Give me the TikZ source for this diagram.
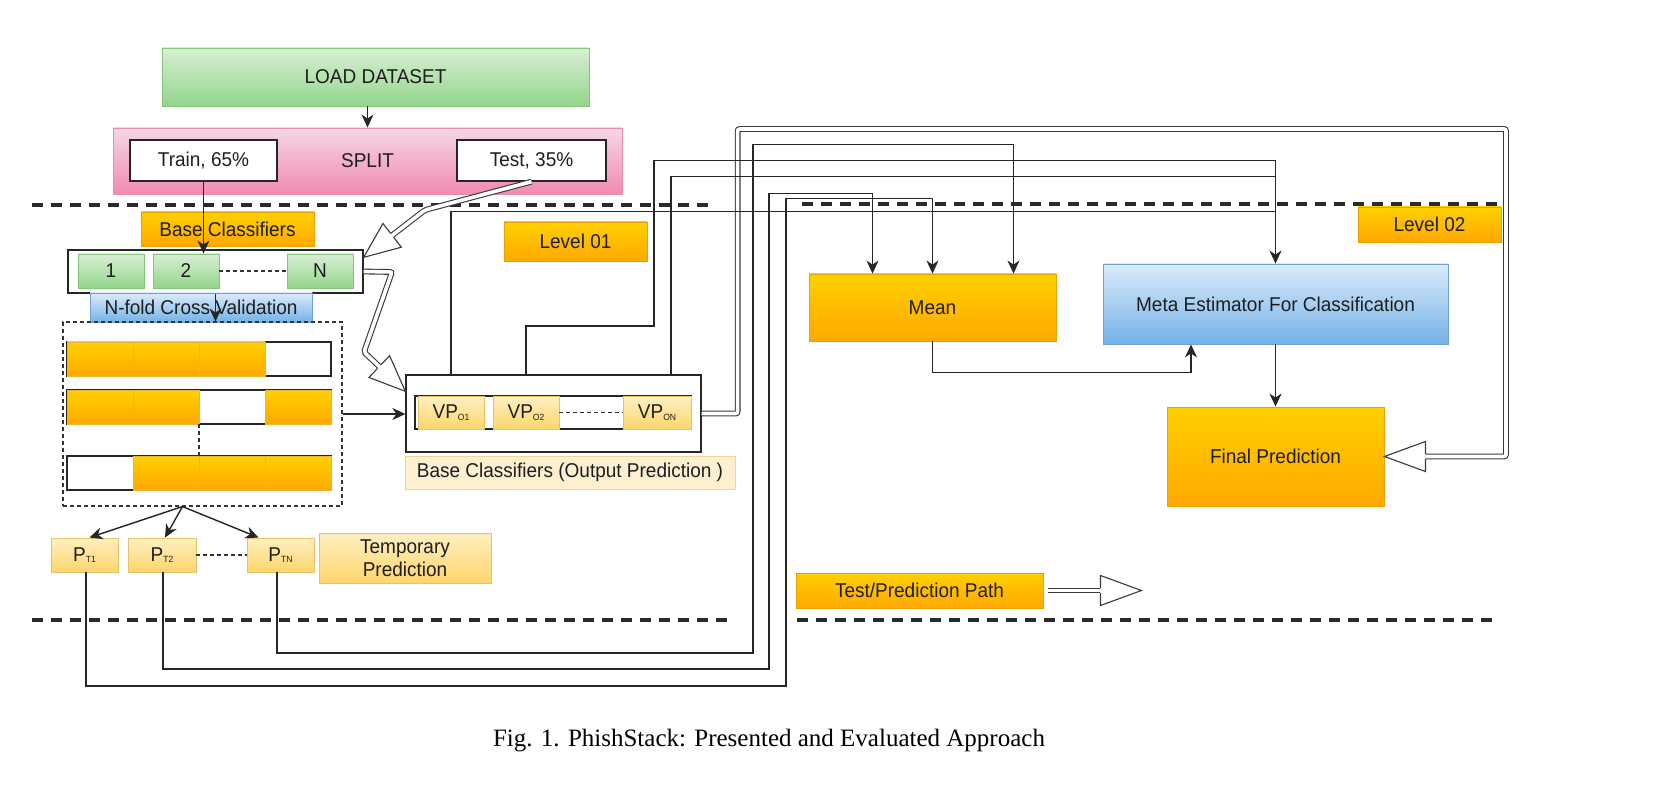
\documentclass[tikz,border=0pt]{standalone}
\usepackage{fontspec}
\setmainfont{Liberation Sans}[FakeStretch=0.95]
\newfontfamily\capfont{Liberation Serif}
\usetikzlibrary{calc,arrows.meta}
\definecolor{grT}{HTML}{D8EFD4}
\definecolor{grB}{HTML}{93D58A}
\definecolor{grD}{HTML}{86C57C}
\definecolor{pkT}{HTML}{F4D7E5}
\definecolor{pkB}{HTML}{F28AB2}
\definecolor{pkD}{HTML}{E58FB2}
\definecolor{orT}{HTML}{FFD000}
\definecolor{orB}{HTML}{FFA800}
\definecolor{orD}{HTML}{E9A100}
\definecolor{blT}{HTML}{DCEBFB}
\definecolor{blB}{HTML}{73B2E7}
\definecolor{blD}{HTML}{6FA0CF}
\definecolor{ylT}{HTML}{FFF0C2}
\definecolor{ylB}{HTML}{FDD56A}
\definecolor{ylD}{HTML}{E6C36A}
\definecolor{plF}{HTML}{FDEFD0}
\definecolor{plD}{HTML}{F2D590}
\definecolor{flc}{HTML}{3A3A3A}
\definecolor{sepc}{HTML}{2A2A2A}
\definecolor{txt}{HTML}{1E1E1E}
\newcommand{\sbs}[1]{\raisebox{-1.5pt}{\fontsize{9}{9}\selectfont #1}}
\newcommand{\flexhead}[2]{%
  \filldraw[fill=white, draw=flc, line width=1.1pt, line join=miter]
   ($(#1)!2.35pt!90:(#2)$) -- ($(#1)!15pt!90:(#2)$) -- (#2) -- ($(#1)!15pt!-90:(#2)$) -- ($(#1)!2.35pt!-90:(#2)$);}
\tikzset{
 lbl/.style={inner sep=0pt, align=center, text=txt, font=\fontsize{20}{23}\selectfont, line width=0.9pt},
 grbox/.style={lbl, draw=grD, top color=grT, bottom color=grB},
 pkbox/.style={lbl, draw=pkD, top color=pkT, bottom color=pkB},
 orbox/.style={lbl, draw=orD, top color=orT, bottom color=orB},
 blbox/.style={lbl, draw=blD, top color=blT, bottom color=blB},
 ylbox/.style={lbl, draw=ylD, top color=ylT, bottom color=ylB},
 plbox/.style={lbl, draw=plD, fill=plF},
 whbox/.style={lbl, draw=black!85, fill=white, line width=1.3pt},
 smallfont/.style={font=\fontsize{20}{22}\selectfont},
 orcell/.style={draw=orD!80, top color=orT, bottom color=orB, line width=0.7pt},
 conn/.style={draw=black!85, line width=1.4pt},
 arr/.style={conn, -{Stealth[length=13pt,width=12pt,inset=4pt]}},
 sep/.style={draw=sepc, line width=3.4pt, dash pattern=on 10.5pt off 8.5pt},
 dashthin/.style={draw=black!80, line width=1.1pt, dash pattern=on 4pt off 3pt},
 flex/.style={draw=flc, line width=1.1pt, double=white, double distance=3.6pt, rounded corners=2pt},
 sz/.style 2 args={minimum width=#1pt, minimum height=#2pt},
}
\begin{document}
\begin{tikzpicture}[x=1pt,y=-1pt]
\useasboundingbox (0,0) rectangle (1658,786);
\fill[white] (0,0) rectangle (1658,786);

% separators
\draw[sep] (32,205) -- (710,205);
\draw[sep] (802,204) -- (1498,204);
\draw[sep] (32,620) -- (730,620);
\draw[sep] (797,620) -- (1492,620);

% top
\node[grbox, sz={427}{58}] (load) at (375.5,77) {LOAD DATASET};
\node[pkbox, sz={509}{66}] (split) at (367.5,161) {SPLIT};
\node[whbox, sz={147}{41}] (train) at (203.5,160.5) {Train, 65\%};
\node[whbox, sz={149}{41}] (test) at (531.5,160.5) {Test, 35\%};

% labels
\node[orbox, sz={173}{34}] (basecl) at (227.5,229) {Base Classifiers};
\node[orbox, sz={143}{39}] (lev1) at (575.5,241.5) {Level 01};
\node[orbox, sz={143}{35}] (lev2) at (1429.5,224.5) {Level 02};

% N row
\node[whbox, sz={295}{43}] (nrow) at (215.5,271.5) {};
\node[grbox, sz={66}{34}] (c1) at (111,271) {1};
\node[grbox, sz={66}{34}] (c2) at (186,271) {2};
\node[grbox, sz={66}{34}] (cN) at (320,271) {N};
\draw[dashthin] (c2.east) -- (cN.west);
\node[blbox, sz={222}{29}] (nfold) at (201,307.5) {N-fold Cross Validation};

% folds
\node[dashthin, sz={279}{184}] (folds) at (202.5,414) {};
\foreach \yy/\w in {342/3, 390/2, 456/0} {
  \draw[line width=1.1pt, draw=black!85, fill=white] (67,\yy) rectangle (331,\yy+34);
  \foreach \i in {0,1,2,3} {
    \ifnum\i=\w\relax\else
      \draw[orcell] (67+66*\i,\yy) rectangle ++(66,34);
    \fi
  }
}
\draw[dashthin] (199,424) -- (199,456);

% temporary predictions
\node[ylbox, smallfont, sz={67}{34}] (pt1) at (84.5,555) {P\sbs{T1}};
\node[ylbox, smallfont, sz={68}{34}] (pt2) at (162,555) {P\sbs{T2}};
\node[ylbox, smallfont, sz={67}{34}] (ptn) at (280.5,555) {P\sbs{TN}};
\draw[dashthin] (pt2.east) -- (ptn.west);
\node[ylbox, sz={172}{50}] (temp) at (405,558) {Temporary\\Prediction};

% VP box
\node[whbox, sz={295}{77}] (vp) at (553.5,413.5) {};
\node[draw=black!85, line width=1.1pt, fill=white, sz={276}{33}] (vprow) at (553,412.5) {};
\node[ylbox, smallfont, sz={66}{33}] (vp1) at (451,412.5) {VP\sbs{O1}};
\node[ylbox, smallfont, sz={66}{33}] (vp2) at (526,412.5) {VP\sbs{O2}};
\node[ylbox, smallfont, sz={68}{33}] (vpn) at (657,412.5) {VP\sbs{ON}};
\draw[dashthin] (vp2.east) -- (vpn.west);
\node[plbox, sz={330}{33}] (bcout) at (570,472.5) {Base Classifiers (Output Prediction )};

% level 2
\node[orbox, sz={247}{67}] (mean) at (932.5,307.5) {Mean};
\node[blbox, sz={345}{80}] (meta) at (1275.5,304) {Meta Estimator For Classification};
\node[orbox, sz={217}{99}] (final) at (1275.5,456.5) {Final Prediction};
\node[orbox, sz={247}{35}] (tpp) at (919.5,590.5) {Test/Prediction Path};

% caption
\node[inner sep=0pt, font=\capfont\fontsize{25}{28}\selectfont] (cap) at (769,741) {Fig. 1. PhishStack: Presented and Evaluated Approach};

% flex arrows
\coordinate (tA) at (425,210);
\coordinate (tTip) at ($(nrow.north east)+(0,8)$);
\coordinate (tBase) at ($(tTip)!36pt!(tA)$);
\draw[flex] (test.south) -- (tA) -- (tBase);
\flexhead{tBase}{tTip}

\coordinate (nA) at (392,272);
\coordinate (nB) at (364,352);
\coordinate (nTip) at ($(vp.north west)+(0,17)$);
\coordinate (nBase) at ($(nTip)!36pt!(nB)$);
\draw[flex] (nrow.east) -- (nA) -- (nB) -- (nBase);
\flexhead{nBase}{nTip}

\coordinate (fBase) at ($(final.east)+(41,0)$);
\draw[flex] (vp.east) -- ++(36,0) |- (1506,129) |- (fBase);
\flexhead{fBase}{final.east}

\coordinate (pS) at ($(tpp.east)+(5,0)$);
\coordinate (pTip) at ($(tpp.east)+(98,0)$);
\coordinate (pBase) at ($(pTip)+(-41,0)$);
\draw[flex] (pS) -- (pBase);
\flexhead{pBase}{pTip}

% thin connectors
\draw[arr] (load.south -| split.north) -- (split.north);
\draw[arr] (train.south) -- (train.south |- c2.north);
\draw[arr] (nrow.south) -- (folds.north -| nrow.south);
\draw[arr] (folds.east) -- (folds.east -| vp.west);
\coordinate (fb) at ($(folds.south)+(-20,0)$);
\draw[arr] (fb) -- ($(pt1.north)+(5,0)$);
\draw[arr] (fb) -- ($(pt2.north)+(3,0)$);
\draw[arr] (fb) -- ($(ptn.north)+(-22,0)$);

\coordinate (mIn1) at ($(mean.north)+(-60,0)$);
\coordinate (mIn3) at ($(mean.north)+(81,0)$);
\draw[arr] ($(pt1.south)+(1.5,0)$) |- (786,686) |- ($(mean.north)+(0,-75)$) -- (mean.north);
\draw[arr] ($(pt2.south)+(1,0)$) |- (769,669) |- ($(mIn1)+(0,-80)$) -- (mIn1);
\draw[arr] ($(ptn.south)+(-3.5,0)$) |- (753,653) |- ($(mIn3)+(0,-129)$) -- (mIn3);

\draw[conn] ($(vp.north)+(-102.5,0)$) |- ($(meta.north)+(0,-52)$);
\draw[arr] ($(vp.north)+(-27.5,0)$) |- (654,326) |- ($(meta.north)+(0,-103)$) -- (meta.north);
\draw[conn] ($(vp.north)+(117.5,0)$) |- ($(meta.north)+(0,-87)$);

\draw[arr] (mean.south) |- ($(meta.south)+(-84.5,28)$) -- ($(meta.south)+(-84.5,0)$);
\draw[arr] (meta.south) -- (final.north);
\end{tikzpicture}
\end{document}
